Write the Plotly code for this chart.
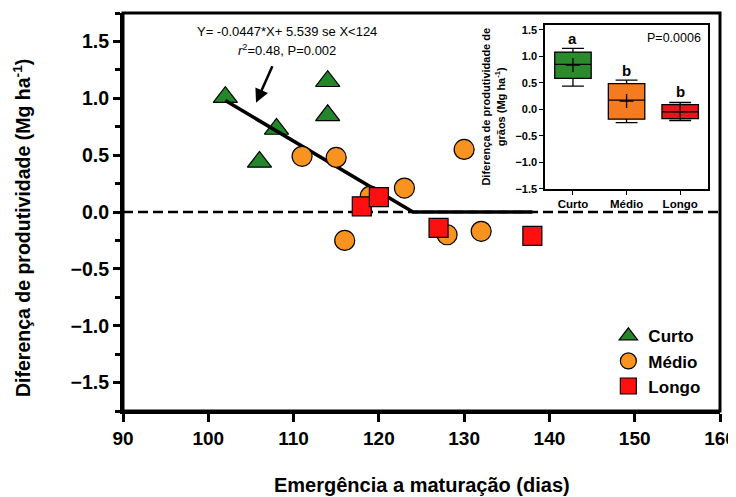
import numpy as np
import plotly.graph_objects as go

# ---- data ----
curto_x = [102, 108, 106, 114, 114]
curto_y = [1.01, 0.73, 0.44, 1.15, 0.85]
medio_x = [111, 115, 119, 123, 130, 116, 128, 132]
medio_y = [0.49, 0.48, 0.14, 0.21, 0.55, -0.25, -0.20, -0.17]
longo_x = [118, 120, 127, 138]
longo_y = [0.05, 0.13, -0.14, -0.21]

slope = -0.0447
intercept = 5.539
breakpoint = 124
fit_x = np.array([102, 124, 138])
fit_y = np.where(fit_x < breakpoint, slope * fit_x + intercept, 0.0)

groups = ["Curto", "Médio", "Longo"]
group_values = [curto_y, medio_y, longo_y]

x_ticks = [90, 100, 110, 120, 130, 140, 150, 160]
y_ticks = [-1.5, -1.0, -0.5, 0.0, 0.5, 1.0, 1.5]
inset_y_ticks = [-1.5, -1.0, -0.5, 0.0, 0.5, 1.0, 1.5]
letters = ["a", "b", "b"]
letter_y = [1.34, 0.74, 0.33]

GREEN = "#23862a"
ORANGE = "#f7931e"
RED = "#ff1010"
BOX_COLORS = ["#2b8a2b", "#f47b20", "#e8161c"]
FONT = "Liberation Sans, Arial, sans-serif"

fig = go.Figure()

fig.add_trace(go.Scatter(
    x=curto_x, y=curto_y, mode="markers", name="Curto",
    marker=dict(symbol="triangle-up", size=21, color=GREEN,
                line=dict(color="black", width=1.2)),
    xaxis="x", yaxis="y"))
fig.add_trace(go.Scatter(
    x=fit_x, y=fit_y, mode="lines", showlegend=False,
    line=dict(color="black", width=3.5), xaxis="x", yaxis="y"))
fig.add_trace(go.Scatter(
    x=medio_x, y=medio_y, mode="markers", name="Médio",
    marker=dict(symbol="circle", size=20, color=ORANGE,
                line=dict(color="black", width=1.2)),
    xaxis="x", yaxis="y"))
fig.add_trace(go.Scatter(
    x=longo_x, y=longo_y, mode="markers", name="Longo",
    marker=dict(symbol="square", size=19, color=RED,
                line=dict(color="black", width=1.2)),
    xaxis="x", yaxis="y"))

# ---- inset box plots ----
for g, vals, col in zip(groups, group_values, BOX_COLORS):
    fig.add_trace(go.Box(
        x=[g] * len(vals), y=vals, name=g, showlegend=False,
        fillcolor=col, line=dict(color="black", width=1.3),
        boxpoints=False, quartilemethod="exclusive", width=0.68,
        whiskerwidth=0.6, xaxis="x2", yaxis="y2"))
fig.add_trace(go.Scatter(
    x=groups, y=[float(np.mean(v)) for v in group_values], mode="markers",
    showlegend=False,
    marker=dict(symbol="cross-thin", size=10, color="black",
                line=dict(color="black", width=1.3)),
    xaxis="x2", yaxis="y2"))

fig.update_layout(
    width=728, height=489,
    margin=dict(l=115, r=16, t=5, b=86, autoexpand=False),
    plot_bgcolor="white", paper_bgcolor="white",
    font=dict(family=FONT, color="black"),
    showlegend=True,
    legend=dict(x=0.813, y=0.233, xanchor="left", yanchor="top",
                bgcolor="rgba(0,0,0,0)",
                font=dict(size=17, family=FONT, weight="bold"),
                tracegroupgap=0, itemsizing="trace"),
    xaxis=dict(
        domain=[0, 1], range=[90, 160], tickvals=x_ticks,
        ticks="outside", ticklen=8, tickwidth=3, tickcolor="black",
        showline=True, linewidth=3, linecolor="black",
        showgrid=False, zeroline=False, ticklabeloverflow="allow",
        tickfont=dict(size=19, family=FONT, weight="bold")),
    yaxis=dict(
        domain=[0, 1], range=[-1.75, 1.75], tickvals=y_ticks,
        tickformat=".1f",
        ticks="outside", ticklen=7, tickwidth=3, tickcolor="black",
        minor=dict(dtick=0.25, ticks="outside", ticklen=5, tickwidth=3,
                   tickcolor="black", showgrid=False),
        showline=True, linewidth=3, linecolor="black",
        showgrid=False, zeroline=False,
        tickfont=dict(size=19.5, family=FONT, weight="bold")),
    xaxis2=dict(
        domain=[0.707, 0.980], anchor="y2", type="category",
        range=[-0.52, 2.52],
        ticks="outside", ticklen=4, tickwidth=1.3, tickcolor="black",
        showline=True, linewidth=1.5, linecolor="black", mirror=True,
        showgrid=False, zeroline=False,
        tickfont=dict(size=11.5, family=FONT, weight="bold")),
    yaxis2=dict(
        domain=[0.558, 0.971], anchor="x2", range=[-1.5, 1.6],
        tickvals=inset_y_ticks, tickformat=".1f",
        ticks="outside", ticklen=4, tickwidth=1.3, tickcolor="black",
        showline=True, linewidth=1.5, linecolor="black", mirror=True,
        showgrid=False, zeroline=False,
        tickfont=dict(size=11, family=FONT, weight="bold"),
        title=dict(text="Diferença de produtividade de<br>grãos (Mg ha<sup>-1</sup>)",
                   font=dict(size=11, family=FONT, weight="bold"),
                   standoff=8)),
)

# zero reference lines
fig.add_shape(type="line", xref="x domain", yref="y", x0=0, x1=1, y0=0, y1=0,
              line=dict(color="black", width=2.5, dash="10px,5px"), layer="below")
fig.add_shape(type="line", xref="x2 domain", yref="y2", x0=0, x1=1, y0=0, y1=0,
              line=dict(color="#b0b0b0", width=1, dash="dot"), layer="below")
# inset background
fig.add_shape(type="rect", xref="x2 domain", yref="y2 domain", x0=0, x1=1, y0=0, y1=1,
              line=dict(width=0), fillcolor="white", layer="below")
# main plot frame
fig.add_shape(type="rect", xref="x domain", yref="y domain", x0=0, x1=1, y0=0, y1=1,
              line=dict(color="black", width=3), fillcolor="rgba(0,0,0,0)",
              layer="above")

annotations = [
    dict(x=0.5, y=-0.186, xref="paper", yref="paper", showarrow=False,
         text="Emergência a maturação (dias)", yanchor="middle",
         font=dict(size=20, family=FONT, weight="bold")),
    dict(x=-0.169, y=0.46, xref="paper", yref="paper", showarrow=False,
         text="Diferença de produtividade (Mg ha<sup>-1</sup>)", textangle=-90,
         xanchor="center", yanchor="middle",
         font=dict(size=19.5, family=FONT, weight="bold")),
    dict(x=109.2, y=1.585, xref="x", yref="y", showarrow=False,
         text="Y= -0.0447*X+ 5.539 se X<124",
         font=dict(size=13, family=FONT)),
    dict(x=109.2, y=1.425, xref="x", yref="y", showarrow=False,
         text="<i>r</i><sup>2</sup>=0.48, P=0.002",
         font=dict(size=13, family=FONT)),
    dict(x=105.6, y=0.96, xref="x", yref="y", text="", showarrow=True,
         ax=17, ay=-38, arrowhead=2, arrowsize=1.1, arrowwidth=2.5,
         arrowcolor="black"),
    dict(x=0.97, y=0.97, xref="x2 domain", yref="y2 domain", showarrow=False,
         xanchor="right", yanchor="top", text="P=0.0006",
         font=dict(size=12.5, family=FONT)),
]
for g, t, ly in zip(groups, letters, letter_y):
    annotations.append(dict(x=g, y=ly, xref="x2", yref="y2", text=t,
                            showarrow=False,
                            font=dict(size=15, family=FONT, weight="bold")))
fig.update_layout(annotations=annotations)

fig.write_html("out.html")
